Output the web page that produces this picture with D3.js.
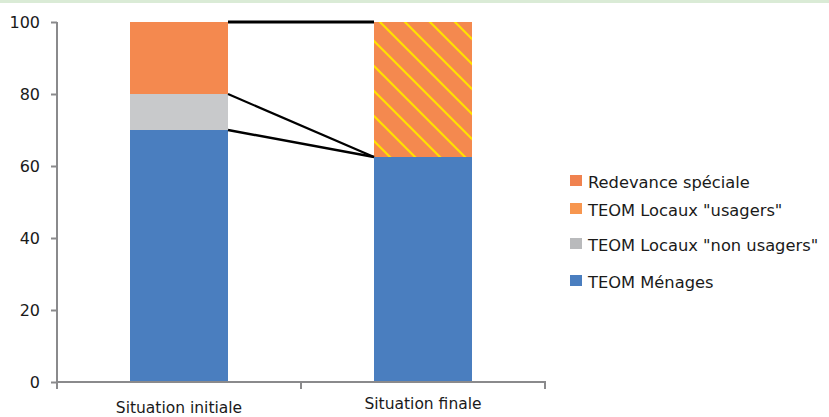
<!DOCTYPE html>
<html>
<head>
<meta charset="utf-8">
<script src="https://cdn.jsdelivr.net/npm/d3@7"></script>
<style>
  html, body { margin: 0; padding: 0; background: #fff; }
  svg { display: block; }
  text { font-family: "DejaVu Sans", "Liberation Sans", sans-serif; fill: #1a1a1a; }
</style>
</head>
<body>
<svg id="chart" width="829" height="417"></svg>
<script>
// Scenarios on the x axis
const categories = ["Situation initiale", "Situation finale"];
// Stack shares (%) per scenario, bottom to top
const menages      = [70, 62.5];
const nonUsagers   = [10, 0];
const usagers      = [20, 0];
const redevance    = [0, 37.5];
const yTicks = [0, 20, 40, 60, 80, 100];

const seriesNames = ["TEOM Ménages", "TEOM Locaux \"non usagers\"", "TEOM Locaux \"usagers\"", "Redevance spéciale"];
const barColors   = ["#4a7ebf", "#c8c9cb", "#f4894f", "#f4894f"];
const swatchColors = ["#4a7ebf", "#b9babc", "#f7964f", "#f0824f"];

const svg = d3.select("#chart");

// thin band along the top edge
svg.append("rect").attr("x", 0).attr("y", 0).attr("width", 829).attr("height", 3).attr("fill", "#daebd6");

const x0 = 57, x1 = 545, yTop = 22, yBot = 382;
const x = d3.scaleBand().domain(categories).range([x0, x1]).paddingInner(0).paddingOuter(0);
const y = d3.scaleLinear().domain([0, 100]).range([yBot, yTop]);
const barW = 98;

// hatch pattern for the redevance segment
const defs = svg.append("defs");
const pat = defs.append("pattern").attr("id", "hatch").attr("patternUnits", "userSpaceOnUse")
  .attr("width", 25).attr("height", 25).attr("x", 8).attr("y", 0);
pat.append("rect").attr("width", 25).attr("height", 25).attr("fill", "#f4894f");
pat.append("path").attr("d", "M-2,-2 L27,27 M-12.5,12.5 L12.5,37.5 M12.5,-12.5 L37.5,12.5")
  .attr("stroke", "#ffe000").attr("stroke-width", 2.2);

const table = categories.map((c, i) => ({
  cat: c,
  "TEOM Ménages": menages[i],
  "TEOM Locaux \"non usagers\"": nonUsagers[i],
  "TEOM Locaux \"usagers\"": usagers[i],
  "Redevance spéciale": redevance[i]
}));
const stacked = d3.stack().keys(seriesNames)(table);

const bx = c => x(c) + (x.bandwidth() - barW) / 2;

stacked.forEach((layer, k) => {
  svg.append("g").selectAll("rect").data(layer.filter(d => d[1] - d[0] > 0)).join("rect")
    .attr("x", d => bx(d.data.cat))
    .attr("width", barW)
    .attr("y", d => y(d[1]))
    .attr("height", d => y(d[0]) - y(d[1]))
    .attr("fill", k === 3 ? "url(#hatch)" : barColors[k]);
});

// connector lines between the two bars
const rightOf0 = bx(categories[0]) + barW;
const leftOf1 = bx(categories[1]);
const links = [
  [100, 100, 3],
  [menages[0] + nonUsagers[0], menages[1], 2.2],
  [menages[0], menages[1], 2.4]
];
svg.append("g").selectAll("line").data(links).join("line")
  .attr("x1", rightOf0).attr("y1", d => y(d[0]))
  .attr("x2", leftOf1).attr("y2", d => y(d[1]))
  .attr("stroke", "#000").attr("stroke-width", d => d[2]);

// axes
const axisColor = "#8a8a8c";
const yAxis = svg.append("g").attr("transform", `translate(${x0},0)`)
  .call(d3.axisLeft(y).tickValues(yTicks).tickSize(6).tickPadding(11).tickSizeOuter(0));
yAxis.select(".domain").remove();
yAxis.append("line").attr("x1", 0).attr("x2", 0).attr("y1", yTop).attr("y2", yBot + 7)
  .attr("stroke", axisColor).attr("stroke-width", 2);
yAxis.selectAll(".tick line").attr("stroke", axisColor).attr("stroke-width", 2);
yAxis.selectAll(".tick text").attr("font-size", 16).attr("fill", "#1a1a1a")
  .attr("font-family", "DejaVu Sans, sans-serif").attr("dy", "0.35em");

const xAxisG = svg.append("g");
xAxisG.append("line").attr("x1", x0).attr("x2", x1 + 1).attr("y1", yBot).attr("y2", yBot)
  .attr("stroke", axisColor).attr("stroke-width", 2);
const boundaries = [x0, x0 + x.bandwidth(), x1];
xAxisG.selectAll("line.b").data(boundaries).join("line").attr("class", "b")
  .attr("x1", d => d).attr("x2", d => d).attr("y1", yBot).attr("y2", yBot + 7)
  .attr("stroke", axisColor).attr("stroke-width", 2);
const labelY = [413, 409];
xAxisG.selectAll("text").data(categories).join("text")
  .attr("x", d => x(d) + x.bandwidth() / 2)
  .attr("y", (d, i) => labelY[i])
  .attr("text-anchor", "middle").attr("font-size", 15.5)
  .text(d => d);

// legend, listed top-down in reverse stacking order
const legendItems = [
  { name: "Redevance spéciale", color: swatchColors[3], y: 175 },
  { name: "TEOM Locaux \"usagers\"", color: swatchColors[2], y: 203 },
  { name: "TEOM Locaux \"non usagers\"", color: swatchColors[1], y: 238 },
  { name: "TEOM Ménages", color: swatchColors[0], y: 275 }
];
const lg = svg.append("g").selectAll("g").data(legendItems).join("g")
  .attr("transform", d => `translate(570,${d.y})`);
lg.append("rect").attr("width", 12).attr("height", 11).attr("fill", d => d.color);
lg.append("text").attr("x", 18).attr("y", 12.5).attr("font-size", 16.3).text(d => d.name);
</script>
</body>
</html>
